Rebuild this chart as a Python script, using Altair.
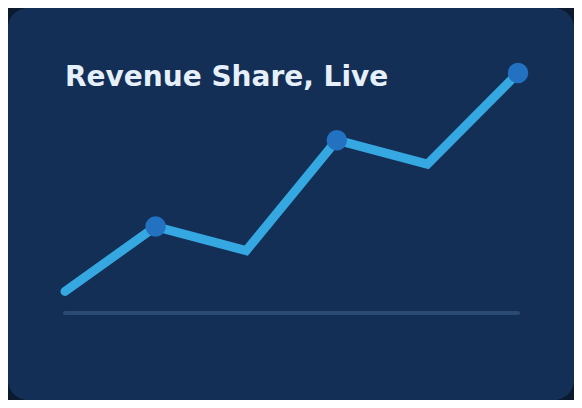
import altair as alt
import pandas as pd

# data
steps = [0, 1, 2, 3, 4, 5]
share = [9, 36, 26, 72, 62, 100]
marked = [False, True, False, True, False, True]
title_text = "Revenue Share, Live"

df = pd.DataFrame({"step": steps, "share": share, "marked": marked})

x_scale = alt.Scale(domain=[0, 5], range=[57, 510])
y_scale = alt.Scale(domain=[0, 100], range=[305, 65])

base = alt.Chart(df)

baseline = alt.Chart(pd.DataFrame({"a": [0], "b": [5], "y": [0]})).mark_rule(
    color="#294a72", strokeWidth=4, strokeCap="round"
).encode(
    x=alt.X("a:Q", scale=x_scale, axis=None),
    x2="b:Q",
    y=alt.Y("y:Q", scale=y_scale, axis=None),
)

line = base.mark_line(
    color="#35a8e2", strokeWidth=9, strokeCap="round", strokeJoin="miter"
).encode(
    x=alt.X("step:Q", scale=x_scale, axis=None),
    y=alt.Y("share:Q", scale=y_scale, axis=None),
)

dots = base.transform_filter("datum.marked").mark_circle(
    color="#2372c2", opacity=1, size=420
).encode(
    x=alt.X("step:Q", scale=x_scale, axis=None),
    y=alt.Y("share:Q", scale=y_scale, axis=None),
)

title = alt.Chart(pd.DataFrame({"t": [title_text]})).mark_text(
    align="left", baseline="alphabetic", font="DejaVu Sans", fontWeight="bold",
    fontSize=28, color="#e6f0fb"
).encode(text="t:N", x=alt.value(57), y=alt.value(78))

chart = alt.layer(baseline, line, dots, title).properties(
    width=566, height=392,
    autosize=alt.AutoSizeParams(type="fit", contains="padding"),
    padding=0,
    background="#0b1a2e",
).configure_view(
    fill="#132f56", stroke=None, cornerRadius=20
)

chart.save("out.html", embed_options={"renderer": "svg", "actions": False})
